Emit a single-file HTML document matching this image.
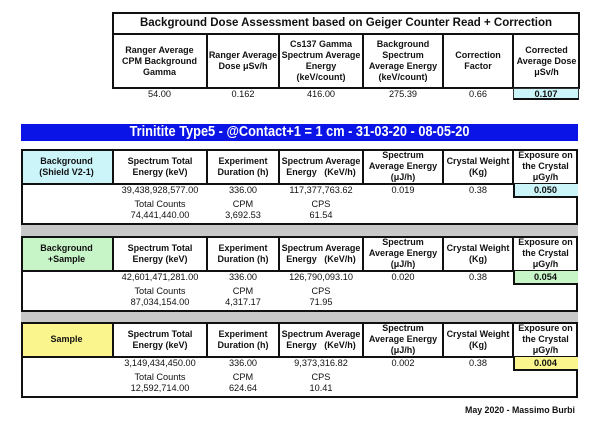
<!DOCTYPE html><html><head><meta charset="utf-8"><style>
*{margin:0;padding:0;box-sizing:border-box}
body{width:600px;height:425px;background:#fff;position:relative;font-family:"Liberation Sans",Arial,sans-serif;color:#111;overflow:hidden}
.a{position:absolute}
.c{position:absolute;display:flex;align-items:center;justify-content:center;text-align:center;font-weight:bold;font-size:9px;line-height:11px;white-space:nowrap}
.t{position:absolute;text-align:center;font-size:9.2px;line-height:11px}
.box{position:absolute;border:2px solid #111}
.vl{position:absolute;width:1.5px;background:#111}
.hl{position:absolute;height:1.5px;background:#111}
</style></head><body>
<div class="box" style="left:112px;top:12px;width:468px;height:77px"></div>
<div class="hl" style="left:112px;top:33px;width:468px"></div>
<div class="c" style="left:112px;top:12px;width:468px;height:22px;font-size:11.5px">Background Dose Assessment based on Geiger Counter Read + Correction</div>
<div class="vl" style="left:206px;top:34px;height:54px"></div>
<div class="vl" style="left:278px;top:34px;height:54px"></div>
<div class="vl" style="left:362px;top:34px;height:54px"></div>
<div class="vl" style="left:442px;top:34px;height:54px"></div>
<div class="vl" style="left:512px;top:34px;height:54px"></div>
<div class="c" style="left:112px;top:34px;width:95px;height:54px">Ranger Average<br>CPM Background<br>Gamma</div>
<div class="c" style="left:207px;top:34px;width:72px;height:54px">Ranger Average<br>Dose μSv/h</div>
<div class="c" style="left:279px;top:34px;width:84px;height:54px">Cs137 Gamma<br>Spectrum Average<br>Energy<br>(keV/count)</div>
<div class="c" style="left:363px;top:34px;width:80px;height:54px">Background<br>Spectrum<br>Average Energy<br>(keV/count)</div>
<div class="c" style="left:443px;top:34px;width:70px;height:54px">Correction<br>Factor</div>
<div class="c" style="left:513px;top:34px;width:67px;height:54px">Corrected<br>Average Dose<br>μSv/h</div>
<div class="t" style="left:112px;top:89px;width:95px">54.00</div>
<div class="t" style="left:207px;top:89px;width:72px">0.162</div>
<div class="t" style="left:279px;top:89px;width:84px">416.00</div>
<div class="t" style="left:363px;top:89px;width:80px">275.39</div>
<div class="t" style="left:443px;top:89px;width:70px">0.66</div>
<div class="a" style="left:513px;top:88px;width:66px;height:12px;background:#ccf5fa;border:1px solid #333;border-bottom:2px solid #111"></div>
<div class="t" style="left:513px;top:89px;width:66px;font-weight:bold">0.107</div>
<div class="a" style="left:21px;top:124px;width:557px;height:17px;background:#0a14e6"></div>
<div class="c" style="left:21px;top:124px;width:557px;height:17px;color:#fff;font-size:14.5px;transform:scaleX(0.88)">Trinitite Type5 - @Contact+1 = 1 cm - 31-03-20 - 08-05-20</div>
<div class="a" style="left:21px;top:224px;width:557px;height:13px;background:#c8c8c8"></div>
<div class="a" style="left:21px;top:311px;width:557px;height:12px;background:#c8c8c8"></div>

<div class="box" style="left:21px;top:149px;width:557px;height:76px"></div>
<div class="a" style="left:23px;top:151px;width:89px;height:33px;background:#ccf5fa"></div>
<div class="hl" style="left:21px;top:183px;width:557px"></div>
<div class="c" style="left:21px;top:149px;width:91px;height:35px">Background<br>(Shield V2-1)</div>
<div class="vl" style="left:112px;top:150px;height:34px"></div><div class="vl" style="left:206px;top:150px;height:34px"></div><div class="vl" style="left:278px;top:150px;height:34px"></div><div class="vl" style="left:362px;top:150px;height:34px"></div><div class="vl" style="left:442px;top:150px;height:34px"></div><div class="vl" style="left:512px;top:150px;height:34px"></div>
<div class="c" style="left:113px;top:149px;width:94px;height:35px">Spectrum Total<br>Energy (keV)</div>
<div class="c" style="left:207px;top:149px;width:72px;height:35px">Experiment<br>Duration (h)</div>
<div class="c" style="left:279px;top:149px;width:84px;height:35px">Spectrum Average<br>Energy &nbsp;&nbsp;(KeV/h)</div>
<div class="c" style="left:363px;top:149px;width:80px;height:35px">Spectrum<br>Average Energy<br>(μJ/h)</div>
<div class="c" style="left:443px;top:149px;width:70px;height:35px">Crystal Weight<br>(Kg)</div>
<div class="c" style="left:513px;top:149px;width:65px;height:35px">Exposure on<br>the Crystal<br>μGy/h</div>
<div class="t" style="left:113px;top:185px;width:94px">39,438,928,577.00</div>
<div class="t" style="left:207px;top:185px;width:72px">336.00</div>
<div class="t" style="left:279px;top:185px;width:84px">117,377,763.62</div>
<div class="t" style="left:363px;top:185px;width:80px">0.019</div>
<div class="t" style="left:443px;top:185px;width:70px">0.38</div>
<div class="a" style="left:513px;top:184px;width:65px;height:14px;background:#ccf5fa;border-left:2px solid #111;border-bottom:2px solid #111"></div>
<div class="t" style="left:513px;top:185px;width:65px;font-weight:bold">0.050</div>
<div class="t" style="left:113px;top:199px;width:94px">Total Counts<br>74,441,440.00</div>
<div class="t" style="left:207px;top:199px;width:72px">CPM<br>3,692.53</div>
<div class="t" style="left:279px;top:199px;width:84px">CPS<br>61.54</div>

<div class="box" style="left:21px;top:236px;width:557px;height:76px"></div>
<div class="a" style="left:23px;top:238px;width:89px;height:33px;background:#c8f5c8"></div>
<div class="hl" style="left:21px;top:270px;width:557px"></div>
<div class="c" style="left:21px;top:236px;width:91px;height:35px">Background<br>+Sample</div>
<div class="vl" style="left:112px;top:237px;height:34px"></div><div class="vl" style="left:206px;top:237px;height:34px"></div><div class="vl" style="left:278px;top:237px;height:34px"></div><div class="vl" style="left:362px;top:237px;height:34px"></div><div class="vl" style="left:442px;top:237px;height:34px"></div><div class="vl" style="left:512px;top:237px;height:34px"></div>
<div class="c" style="left:113px;top:236px;width:94px;height:35px">Spectrum Total<br>Energy (keV)</div>
<div class="c" style="left:207px;top:236px;width:72px;height:35px">Experiment<br>Duration (h)</div>
<div class="c" style="left:279px;top:236px;width:84px;height:35px">Spectrum Average<br>Energy &nbsp;&nbsp;(KeV/h)</div>
<div class="c" style="left:363px;top:236px;width:80px;height:35px">Spectrum<br>Average Energy<br>(μJ/h)</div>
<div class="c" style="left:443px;top:236px;width:70px;height:35px">Crystal Weight<br>(Kg)</div>
<div class="c" style="left:513px;top:236px;width:65px;height:35px">Exposure on<br>the Crystal<br>μGy/h</div>
<div class="t" style="left:113px;top:272px;width:94px">42,601,471,281.00</div>
<div class="t" style="left:207px;top:272px;width:72px">336.00</div>
<div class="t" style="left:279px;top:272px;width:84px">126,790,093.10</div>
<div class="t" style="left:363px;top:272px;width:80px">0.020</div>
<div class="t" style="left:443px;top:272px;width:70px">0.38</div>
<div class="a" style="left:513px;top:271px;width:65px;height:14px;background:#c8f5c8;border-left:2px solid #111;border-bottom:2px solid #111"></div>
<div class="t" style="left:513px;top:272px;width:65px;font-weight:bold">0.054</div>
<div class="t" style="left:113px;top:286px;width:94px">Total Counts<br>87,034,154.00</div>
<div class="t" style="left:207px;top:286px;width:72px">CPM<br>4,317.17</div>
<div class="t" style="left:279px;top:286px;width:84px">CPS<br>71.95</div>

<div class="box" style="left:21px;top:322px;width:557px;height:76px"></div>
<div class="a" style="left:23px;top:324px;width:89px;height:33px;background:#faf58c"></div>
<div class="hl" style="left:21px;top:356px;width:557px"></div>
<div class="c" style="left:21px;top:322px;width:91px;height:35px">Sample</div>
<div class="vl" style="left:112px;top:323px;height:34px"></div><div class="vl" style="left:206px;top:323px;height:34px"></div><div class="vl" style="left:278px;top:323px;height:34px"></div><div class="vl" style="left:362px;top:323px;height:34px"></div><div class="vl" style="left:442px;top:323px;height:34px"></div><div class="vl" style="left:512px;top:323px;height:34px"></div>
<div class="c" style="left:113px;top:322px;width:94px;height:35px">Spectrum Total<br>Energy (keV)</div>
<div class="c" style="left:207px;top:322px;width:72px;height:35px">Experiment<br>Duration (h)</div>
<div class="c" style="left:279px;top:322px;width:84px;height:35px">Spectrum Average<br>Energy &nbsp;&nbsp;(KeV/h)</div>
<div class="c" style="left:363px;top:322px;width:80px;height:35px">Spectrum<br>Average Energy<br>(μJ/h)</div>
<div class="c" style="left:443px;top:322px;width:70px;height:35px">Crystal Weight<br>(Kg)</div>
<div class="c" style="left:513px;top:322px;width:65px;height:35px">Exposure on<br>the Crystal<br>μGy/h</div>
<div class="t" style="left:113px;top:358px;width:94px">3,149,434,450.00</div>
<div class="t" style="left:207px;top:358px;width:72px">336.00</div>
<div class="t" style="left:279px;top:358px;width:84px">9,373,316.82</div>
<div class="t" style="left:363px;top:358px;width:80px">0.002</div>
<div class="t" style="left:443px;top:358px;width:70px">0.38</div>
<div class="a" style="left:513px;top:357px;width:65px;height:14px;background:#faf58c;border-left:2px solid #111;border-bottom:2px solid #111"></div>
<div class="t" style="left:513px;top:358px;width:65px;font-weight:bold">0.004</div>
<div class="t" style="left:113px;top:372px;width:94px">Total Counts<br>12,592,714.00</div>
<div class="t" style="left:207px;top:372px;width:72px">CPM<br>624.64</div>
<div class="t" style="left:279px;top:372px;width:84px">CPS<br>10.41</div>

<div class="a" style="right:25px;top:405px;font-size:8.8px;font-weight:bold">May 2020 - Massimo Burbi</div>
</body></html>
